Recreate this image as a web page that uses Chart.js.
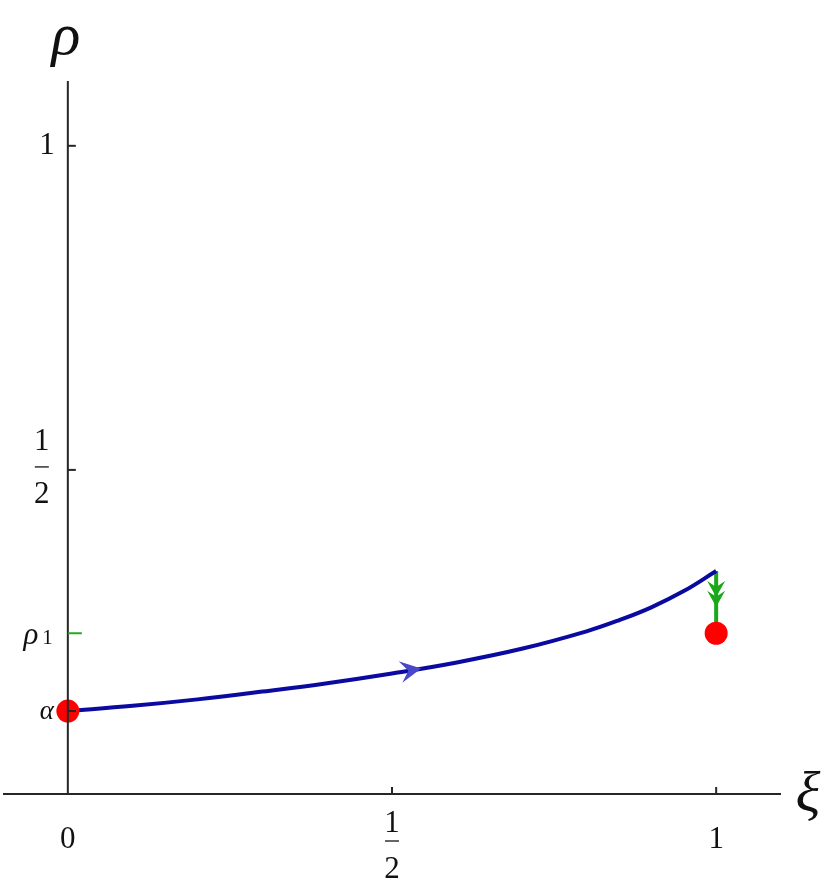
<!DOCTYPE html>
<html>
<head>
<meta charset="utf-8">
<script src="https://cdn.jsdelivr.net/npm/chart.js@4.4.1/dist/chart.umd.min.js"></script>
<style>
  html, body { margin: 0; padding: 0; background: #fff; }
  #wrap { width: 830px; height: 888px; }
</style>
</head>
<body>
<div id="wrap"><canvas id="phaseChart"></canvas></div>
<script>
// Trajectory rho(xi)
const xiValues  = [0, 0.1, 0.2, 0.3, 0.4, 0.5, 0.6, 0.7, 0.8, 0.85, 0.9, 0.95, 1];
const rhoValues = [0.128, 0.136, 0.146, 0.158, 0.171, 0.186, 0.203, 0.224, 0.251, 0.268, 0.288, 0.313, 0.344];

// Special levels
const alpha = 0.128;
const rho1 = 0.248;

// Red fixed points
const pointXi  = [0, 1];
const pointRho = [alpha, rho1];

// Green jump at xi = 1
const jumpXi  = [1, 1];
const jumpRho = [0.344, rho1];

// Arrow heads (positions along the curves)
const blueArrowXi = [0.545];
const greenArrowRho = [0.304, 0.289];

// Ticks
const xTickValues = [0, 0.5, 1];
const xTickLabels = ['0', ['1', '2'], '1'];
const yTickValues = [0.5, 1];
const yTickLabels = [['1', '2'], '1'];

const SERIF = "'Liberation Serif', 'Times New Roman', serif";

function interpRho(x) {
    for (let i = 1; i < xiValues.length; i++) {
        if (x <= xiValues[i]) {
            const t = (x - xiValues[i - 1]) / (xiValues[i] - xiValues[i - 1]);
            return rhoValues[i - 1] + t * (rhoValues[i] - rhoValues[i - 1]);
        }
    }
    return rhoValues[rhoValues.length - 1];
}

// Mathematica style arrow head: tip at (x, y), pointing along angle
function arrowHead(ctx, x, y, angle, len, half, notch, color) {
    ctx.save();
    ctx.translate(x, y);
    ctx.rotate(angle);
    ctx.fillStyle = color;
    ctx.beginPath();
    ctx.moveTo(0, 0);
    ctx.lineTo(-len, -half);
    ctx.lineTo(-len + notch, 0);
    ctx.lineTo(-len, half);
    ctx.closePath();
    ctx.fill();
    ctx.restore();
}

function drawLabel(ctx, label, x, y, align, gapTop, gapBottom) {
    ctx.textAlign = align;
    ctx.textBaseline = 'middle';
    if (Array.isArray(label)) {
        // stacked fraction
        ctx.fillText(label[0], x, y - gapTop);
        ctx.fillText(label[1], x, y + gapBottom);
        ctx.strokeStyle = '#333';
        ctx.lineWidth = 1.5;
        ctx.beginPath();
        ctx.moveTo(x - 7, y);
        ctx.lineTo(x + 7, y);
        ctx.stroke();
    } else {
        ctx.fillText(label, x, y);
    }
}

const axesPlugin = {
    id: 'axesPlugin',
    afterDatasetsDraw(chart) {
        const ctx = chart.ctx;
        const xs = chart.scales.x;
        const ys = chart.scales.y;
        const area = chart.chartArea;
        const x0 = xs.getPixelForValue(0);
        const y0 = ys.getPixelForValue(0);

        ctx.save();
        // axis lines
        ctx.strokeStyle = '#262626';
        ctx.lineWidth = 2;
        ctx.beginPath();
        ctx.moveTo(area.left, y0);
        ctx.lineTo(area.right, y0);
        ctx.moveTo(x0, area.top);
        ctx.lineTo(x0, y0);
        ctx.stroke();

        // x ticks (inward, upward)
        xTickValues.forEach(v => {
            if (v === 0) return;
            const px = xs.getPixelForValue(v);
            ctx.beginPath();
            ctx.moveTo(px, y0);
            ctx.lineTo(px, y0 - 7);
            ctx.stroke();
        });
        // y ticks (inward, to the right)
        yTickValues.concat([alpha]).forEach(v => {
            const py = ys.getPixelForValue(v);
            ctx.beginPath();
            ctx.moveTo(x0, py);
            ctx.lineTo(x0 + 8, py);
            ctx.stroke();
        });
        // green rho1 tick
        ctx.strokeStyle = '#22aa22';
        const pr1 = ys.getPixelForValue(rho1);
        ctx.beginPath();
        ctx.moveTo(x0, pr1);
        ctx.lineTo(x0 + 14, pr1);
        ctx.stroke();

        // tick labels
        ctx.fillStyle = '#111';
        ctx.font = '31px ' + SERIF;
        xTickValues.forEach((v, i) => {
            const px = xs.getPixelForValue(v);
            const lab = xTickLabels[i];
            if (Array.isArray(lab)) {
                drawLabel(ctx, lab, px, y0 + 47, 'center', 17, 29);
            } else {
                drawLabel(ctx, lab, px, y0 + 46, 'center');
            }
        });
        yTickValues.forEach((v, i) => {
            const py = ys.getPixelForValue(v);
            const lab = yTickLabels[i];
            if (Array.isArray(lab)) {
                drawLabel(ctx, lab, x0 - 26, py - 3, 'center', 25, 28);
            } else {
                drawLabel(ctx, lab, x0 - 13, py, 'right');
            }
        });

        // alpha and rho1 labels
        ctx.textAlign = 'right';
        ctx.textBaseline = 'middle';
        ctx.font = 'italic 27px ' + SERIF;
        ctx.fillText('\u03b1', x0 - 14, ys.getPixelForValue(alpha) + 1);
        ctx.textBaseline = 'alphabetic';
        ctx.font = '21px ' + SERIF;
        ctx.fillText('1', x0 - 15, pr1 + 11);
        const w1 = ctx.measureText('1').width;
        ctx.font = 'italic 31px ' + SERIF;
        ctx.fillText('\u03c1', x0 - 19 - w1, pr1 + 11);

        // axis titles
        ctx.textBaseline = 'middle';
        ctx.font = 'italic 60px ' + SERIF;
        ctx.textAlign = 'center';
        ctx.fillText('\u03c1', x0 - 2, 38);
        ctx.font = 'italic 58px ' + SERIF;
        ctx.fillText('\u03be', area.right + 27, y0 + 2);

        // blue arrow along the trajectory
        blueArrowXi.forEach(a => {
            const px = xs.getPixelForValue(a);
            const py = ys.getPixelForValue(interpRho(a));
            const qx = xs.getPixelForValue(a + 0.02);
            const qy = ys.getPixelForValue(interpRho(a + 0.02));
            arrowHead(ctx, px, py, Math.atan2(qy - py, qx - px), 21, 11, 8, '#4848c8');
        });
        // green arrows on the jump
        greenArrowRho.forEach(r => {
            const px = xs.getPixelForValue(jumpXi[0]);
            const py = ys.getPixelForValue(r);
            arrowHead(ctx, px, py, Math.PI / 2, 16, 9, 6, '#1aa81a');
        });
        ctx.restore();
    }
};

new Chart(document.getElementById('phaseChart'), {
    type: 'scatter',
    data: {
        datasets: [
            {
                type: 'line',
                data: jumpXi.map((x, i) => ({ x: x, y: jumpRho[i] })),
                borderColor: '#1aa81a',
                borderWidth: 4,
                pointRadius: 0,
                order: 3
            },
            {
                type: 'line',
                data: xiValues.map((x, i) => ({ x: x, y: rhoValues[i] })),
                borderColor: '#0a0aa0',
                borderWidth: 4,
                tension: 0.4,
                pointRadius: 0,
                order: 2
            },
            {
                data: pointXi.map((x, i) => ({ x: x, y: pointRho[i] })),
                backgroundColor: '#ff0000',
                borderWidth: 0,
                pointRadius: 11.5,
                order: 1
            }
        ]
    },
    options: {
        responsive: true,
        maintainAspectRatio: false,
        animation: false,
        events: [],
        layout: { autoPadding: false, padding: { left: 3, right: 49, top: 81, bottom: 94 } },
        plugins: {
            legend: { display: false },
            tooltip: { enabled: false }
        },
        scales: {
            x: { type: 'linear', min: -0.1, max: 1.1, display: false },
            y: { type: 'linear', min: 0, max: 1.1, display: false }
        },
        elements: { line: { fill: false } }
    },
    plugins: [axesPlugin]
});
</script>
</body>
</html>
